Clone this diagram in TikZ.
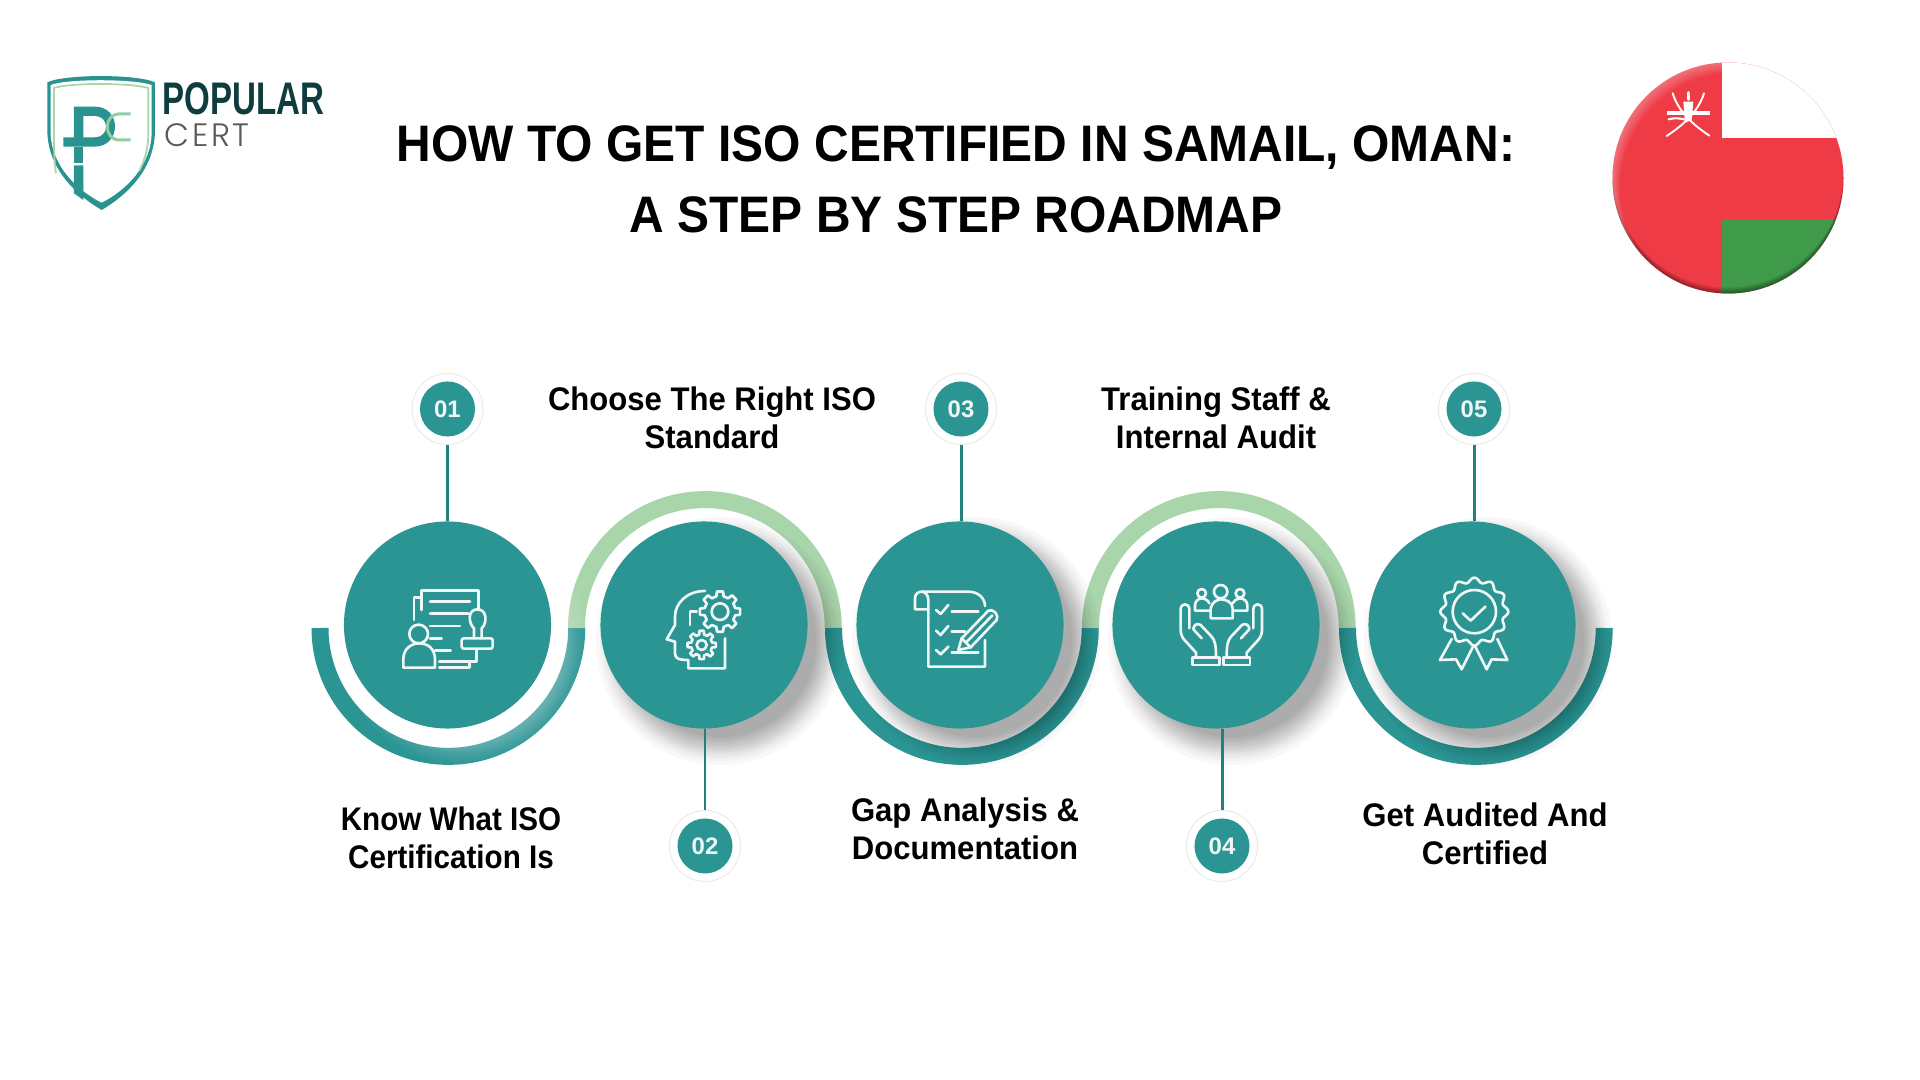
\documentclass[tikz,border=0pt]{standalone}
\usepackage{fontspec}
\setmainfont{Liberation Sans}
\newfontfamily\titlefont[FakeStretch=0.934]{Liberation Sans}
\newfontfamily\labelfont[FakeStretch=0.95]{Liberation Sans}
\newfontfamily\labelfontb[FakeStretch=0.905]{Liberation Sans}
\newfontfamily\logofont[FakeStretch=0.724]{Liberation Sans}
\newfontfamily\certfont[UprightFont=* Light,LetterSpace=8]{Poppins}
\definecolor{tealmain}{HTML}{2B9594}
\definecolor{ringgreen}{HTML}{A9D5AB}
\definecolor{logodark}{HTML}{0F3D3E}
\definecolor{logoteal}{HTML}{2A9390}
\definecolor{logogreen}{HTML}{8FCF9F}
\definecolor{flagred}{HTML}{EF3B45}
\definecolor{flaggreen}{HTML}{3F9A4A}
\tikzset{
  x=0.01cm,y=-0.01cm,
  bigcircle/.style={circle,fill=tealmain,minimum size=2.07cm,inner sep=0pt},
  numring/.style={circle,fill=white,draw=black!8,line width=0.3pt,minimum size=0.71cm,inner sep=0pt},
  numdisc/.style={circle,fill=tealmain,minimum size=0.55cm,inner sep=0pt,text=white!92!tealmain,font=\bfseries\fontsize{6.8}{8}\selectfont},
  stem/.style={draw=tealmain!85!black,line width=0.85pt},
  ringlow/.style={draw=tealmain,line width=0.17cm},
  ringhigh/.style={draw=ringgreen,line width=0.17cm},
  iconline/.style={draw=white!92!tealmain,line width=0.75pt,line cap=round,line join=round},
  steplabel/.style={align=center,text=black,font=\labelfont\bfseries\fontsize{9.3}{10.8}\selectfont,inner sep=0pt},
  titletext/.style={align=center,text=black,font=\titlefont\bfseries\fontsize{14.6}{20.2}\selectfont,inner sep=0pt}
}
\newcommand{\softdisc}[4]{% x y colour opacity
  \foreach \rr in {124,120,117,114,112,110,108,106,104,102,100,98,96}{\fill[#3,opacity=#4] (#1+16,#2+16) circle (\rr);}
}
\newcommand{\geargly}[5]{% cx cy Rin Rout teeth
  \begin{scope}[shift={(#1,#2)}]
  \pgfmathsetmacro{\gp}{360/#5}
  \draw[iconline] (-0.3*\gp:#3)
   \foreach \i in {1,...,#5}{
     -- ({(\i-1)*\gp-0.19*\gp}:#4) -- ({(\i-1)*\gp+0.19*\gp}:#4) -- ({(\i-1)*\gp+0.3*\gp}:#3) -- ({(\i-1)*\gp+0.7*\gp}:#3)
   } -- cycle;
  \end{scope}
}
\begin{document}
\begin{tikzpicture}
\useasboundingbox (0,0) rectangle (1920,1080);
\fill[white] (0,0) rectangle (1920,1080);

% ---- logo
\begin{scope}[shift={(20,50)},xscale=1/3,yscale=1/3]
 \fill[logoteal] (82,97) .. controls (135,72) and (350,72) .. (405,97) -- (405,240) .. controls (405,350) and (330,430) .. (245,480) .. controls (160,430) and (82,350) .. (82,240) -- cycle;
 \fill[white] (92,105) .. controls (140,86) and (340,86) .. (395,105) -- (395,245) .. controls (395,345) and (320,420) .. (245,458) .. controls (170,420) and (92,345) .. (92,245) -- cycle;
 \draw[ringgreen,line width=0.5pt] (108,370) .. controls (102,330) and (102,290) .. (102,245) -- (102,114) .. controls (150,98) and (330,98) .. (385,114) -- (385,250) .. controls (385,300) and (372,335) .. (358,362);
 \fill[logoteal,even odd rule] (162,170) -- (225,170) .. controls (265,170) and (285,200) .. (285,230) .. controls (285,262) and (262,290) .. (225,290) -- (130,290) -- (130,262) -- (162,262) -- cycle
   (190,198) -- (225,198) .. controls (245,198) and (258,212) .. (258,230) .. controls (258,248) and (245,262) .. (225,262) -- (190,262) -- cycle;
 \fill[logoteal] (162,290) -- (190,290) -- (190,340) -- (162,340) -- cycle;
 \fill[logoteal] (162,346) -- (190,346) -- (190,450) -- (162,430) -- cycle;
 \draw[logogreen,line width=0.85pt] (332,192) -- (298,192) .. controls (275,192) and (262,210) .. (262,230) .. controls (262,252) and (275,270) .. (298,270) -- (332,270);
\end{scope}
\node[anchor=base west,inner sep=0pt,text=logodark,font=\logofont\bfseries\fontsize{13}{14}\selectfont] (logotop) at (162,115) {POPULAR};
\node[anchor=base west,inner sep=0pt,text=black!65,font=\certfont\fontsize{9.2}{10}\selectfont] (logobot) at (164,147) {CERT};

% ---- title
\node[titletext] (title) at (956,179) {HOW TO GET ISO CERTIFIED IN SAMAIL, OMAN:\\A STEP BY STEP ROADMAP};

% ---- flag
\begin{scope}
 \clip (1728,178) circle (115.5);
 \fill[flagred] (1600,50) rectangle (1860,310);
 \fill[white] (1722,50) rectangle (1860,138);
 \fill[flaggreen] (1722,219) rectangle (1860,310);
 \foreach \d in {1,2,3,4,5,6}{
   \fill[black,opacity=.07,even odd rule] (1590,40) rectangle (1870,320) (1728,178-\d) circle (115.5);
 }
 \foreach \d in {2,4,6,8,10,12}{
   \fill[white,opacity=.05,even odd rule] (1590,40) rectangle (1870,320) (1728+0.6*\d,178+0.8*\d) circle (115.5);
 }
\end{scope}
\begin{scope}[shift={(1590,40)},xscale=1/3,yscale=1/3]
 \draw[white,line width=0.55pt,line cap=round] (248,160) .. controls (265,215) and (310,255) .. (358,287);
 \draw[white,line width=0.55pt,line cap=round] (342,160) .. controls (325,215) and (280,255) .. (230,288);
 \draw[white,line width=1.1pt] (232,218) -- (360,218);
 \draw[white,line width=0.9pt,line cap=round] (295,158) -- (295,178);
 \fill[white] (280,185) -- (310,185) -- (305,240) -- (285,248) -- cycle;
 \draw[white,line width=0.6pt,line cap=round] (236,238) .. controls (255,232) and (275,236) .. (292,240);
\end{scope}

% ---- rings
\draw[ringlow]  (320,628) arc[start angle=180,end angle=360,radius=1.283cm];
\draw[ringhigh] (576.5,628) arc[start angle=180,end angle=0,radius=1.283cm];
\draw[ringlow]  (833.5,628) arc[start angle=180,end angle=360,radius=1.283cm];
\draw[ringhigh] (1090.5,628) arc[start angle=180,end angle=0,radius=1.283cm];
\draw[ringlow]  (1347.5,628) arc[start angle=180,end angle=360,radius=1.283cm];

% ---- soft shadows
\softdisc{447.5}{625}{white}{.035}
\softdisc{704}{625}{black}{.026}
\softdisc{960}{625}{black}{.026}
\softdisc{1216}{625}{black}{.026}
\softdisc{1472}{625}{black}{.026}

% ---- circles
\node[bigcircle] (c1) at (447.5,625) {};
\node[bigcircle] (c2) at (704,625) {};
\node[bigcircle] (c3) at (960,625) {};
\node[bigcircle] (c4) at (1216,625) {};
\node[bigcircle] (c5) at (1472,625) {};

% ---- numbers
\node[numring] (o1) at (447.5,409) {};
\node[numring] (o2) at (705,846) {};
\node[numring] (o3) at (961,409) {};
\node[numring] (o4) at (1222,846) {};
\node[numring] (o5) at (1474,409) {};
\node[numdisc] (n1) at (o1) {01};
\node[numdisc] (n2) at (o2) {02};
\node[numdisc] (n3) at (o3) {03};
\node[numdisc] (n4) at (o4) {04};
\node[numdisc] (n5) at (o5) {05};

% ---- connectors
\draw[stem] (o1.south) -- (o1.south |- c1.north);
\draw[stem] (o2.north) -- (o2.north |- c2.south);
\draw[stem] (o3.south) -- (o3.south |- c3.north);
\draw[stem] (o4.north) -- (o4.north |- c4.south);
\draw[stem] (o5.south) -- (o5.south |- c5.north);

% ---- labels
\node[steplabel,font=\labelfontb\bfseries\fontsize{9.3}{10.8}\selectfont] (l1) at (451,838) {Know What ISO\\Certification Is};
\node[steplabel] (l2) at (712,418) {Choose The Right ISO\\Standard};
\node[steplabel] (l3) at (965,829) {Gap Analysis \&\\Documentation};
\node[steplabel] (l4) at (1216,418) {Training Staff \&\\Internal Audit};
\node[steplabel] (l5) at (1485,834) {Get Audited And\\Certified};

% ---- icon 1
\begin{scope}[shift={(380,560)},xscale=1/3,yscale=1/3]
 \draw[iconline] (122,112) -- (102,112) -- (102,180);
 \draw[iconline] (125,150) -- (125,92) -- (295,92) -- (295,150);
 \draw[iconline] (150,125) -- (270,125) (150,160) -- (265,160) (150,198) -- (240,198) (150,235) -- (185,235) (165,272) -- (212,272);
 \draw[iconline] (178,305) -- (290,305) -- (290,272);
 \draw[iconline] (178,322) -- (268,322) -- (268,305);
 \draw[iconline] (116,222) circle (28);
 \draw[iconline] (70,323) -- (70,298) .. controls (70,265) and (95,250) .. (118,250) .. controls (142,250) and (165,265) .. (165,298) -- (165,323) -- cycle;
 \draw[iconline] (282,235) -- (282,205) .. controls (265,190) and (262,148) .. (292,148) .. controls (322,148) and (322,190) .. (305,205) -- (305,235);
 \draw[iconline,rounded corners=0.6pt] (245,235) rectangle (338,266);
\end{scope}

% ---- icon 2
\begin{scope}[shift={(650,570)},xscale=1/3,yscale=1/3]
 \draw[iconline] (165,63) .. controls (110,63) and (75,100) .. (75,140) -- (75,165) -- (50,208) -- (75,215) -- (75,250) .. controls (75,265) and (85,270) .. (115,270) -- (115,295) -- (225,295) -- (225,205);
 \draw[iconline] (120,165) -- (120,125) -- (140,125);
 \draw[iconline] (210,125) circle (25);
 \draw[iconline] (155,225) circle (15);
 \geargly{210}{125}{47}{61}{8}
 \geargly{155}{225}{32}{43}{8}
\end{scope}

% ---- icon 3
\begin{scope}[shift={(900,570)},xscale=1/3,yscale=1/3]
 \draw[iconline] (85,118) -- (45,118) -- (45,85) .. controls (45,72) and (55,65) .. (65,65) -- (205,65) .. controls (235,65) and (255,85) .. (255,108);
 \draw[iconline] (65,65) .. controls (75,65) and (85,75) .. (85,90) -- (85,290) -- (255,290) -- (255,210);
 \draw[iconline] (108,120) -- (122,132) -- (145,105);
 \draw[iconline] (108,182) -- (122,195) -- (145,168);
 \draw[iconline] (108,240) -- (122,253) -- (145,230);
 \draw[iconline] (155,125) -- (235,125) (155,185) -- (195,185) (155,248) -- (235,248);
 \draw[iconline] (185,205) -- (265,122) .. controls (280,115) and (298,135) .. (290,150) -- (212,232) -- (175,240) -- cycle;
 \draw[iconline] (198,218) -- (277,136);
 \draw[iconline] (185,205) -- (212,232);
\end{scope}

% ---- icon 4
\begin{scope}[shift={(1160,570)},xscale=1/3,yscale=1/3]
 \draw[iconline] (182,65) circle (20);
 \draw[iconline] (152,145) -- (152,115) .. controls (155,95) and (175,88) .. (182,88) .. controls (195,88) and (218,95) .. (218,115) -- (218,145) -- cycle;
 \draw[iconline] (125,70) circle (13);
 \draw[iconline] (150,122) -- (105,122) -- (105,105) .. controls (105,95) and (115,85) .. (125,85) .. controls (135,85) and (145,92) .. (148,100);
 \draw[iconline] (240,70) circle (13);
 \draw[iconline] (218,122) -- (262,122) -- (262,105) .. controls (262,95) and (252,85) .. (240,85) .. controls (230,85) and (222,92) .. (218,100);
 \draw[iconline] (97,262) rectangle (178,285);
 \draw[iconline] (190,262) rectangle (270,285);
 \draw[iconline] (108,262) -- (108,248) -- (78,215) .. controls (68,205) and (62,195) .. (62,180) -- (62,118) .. controls (62,98) and (88,98) .. (88,118) -- (88,175);
 \draw[iconline] (125,205) -- (100,178) .. controls (100,165) and (112,158) .. (122,165) -- (155,200) .. controls (165,212) and (168,225) .. (168,262);
 \draw[iconline] (260,262) -- (260,248) -- (290,215) .. controls (300,205) and (306,195) .. (306,180) -- (306,118) .. controls (306,98) and (280,98) .. (280,118) -- (280,175);
 \draw[iconline] (243,205) -- (268,178) .. controls (268,165) and (256,158) .. (246,165) -- (213,200) .. controls (203,212) and (200,225) .. (200,262);
\end{scope}

% ---- icon 5
\begin{scope}[shift={(1420,570)},xscale=1/3,yscale=1/3]
 \draw[iconline] plot[domain=0:360,samples=145,smooth] ({163+(95+7*cos(12*\x))*cos(\x)},{125+(95+7*cos(12*\x))*sin(\x)}) -- cycle;
 \draw[iconline] (163,125) circle (65);
 \draw[iconline] (128,130) -- (152,152) -- (196,110);
 \draw[iconline] (95,207) -- (60,270) -- (108,268) -- (125,298) -- (160,228);
 \draw[iconline] (232,207) -- (262,270) -- (215,268) -- (200,298) -- (165,228);
\end{scope}
\end{tikzpicture}
\end{document}
